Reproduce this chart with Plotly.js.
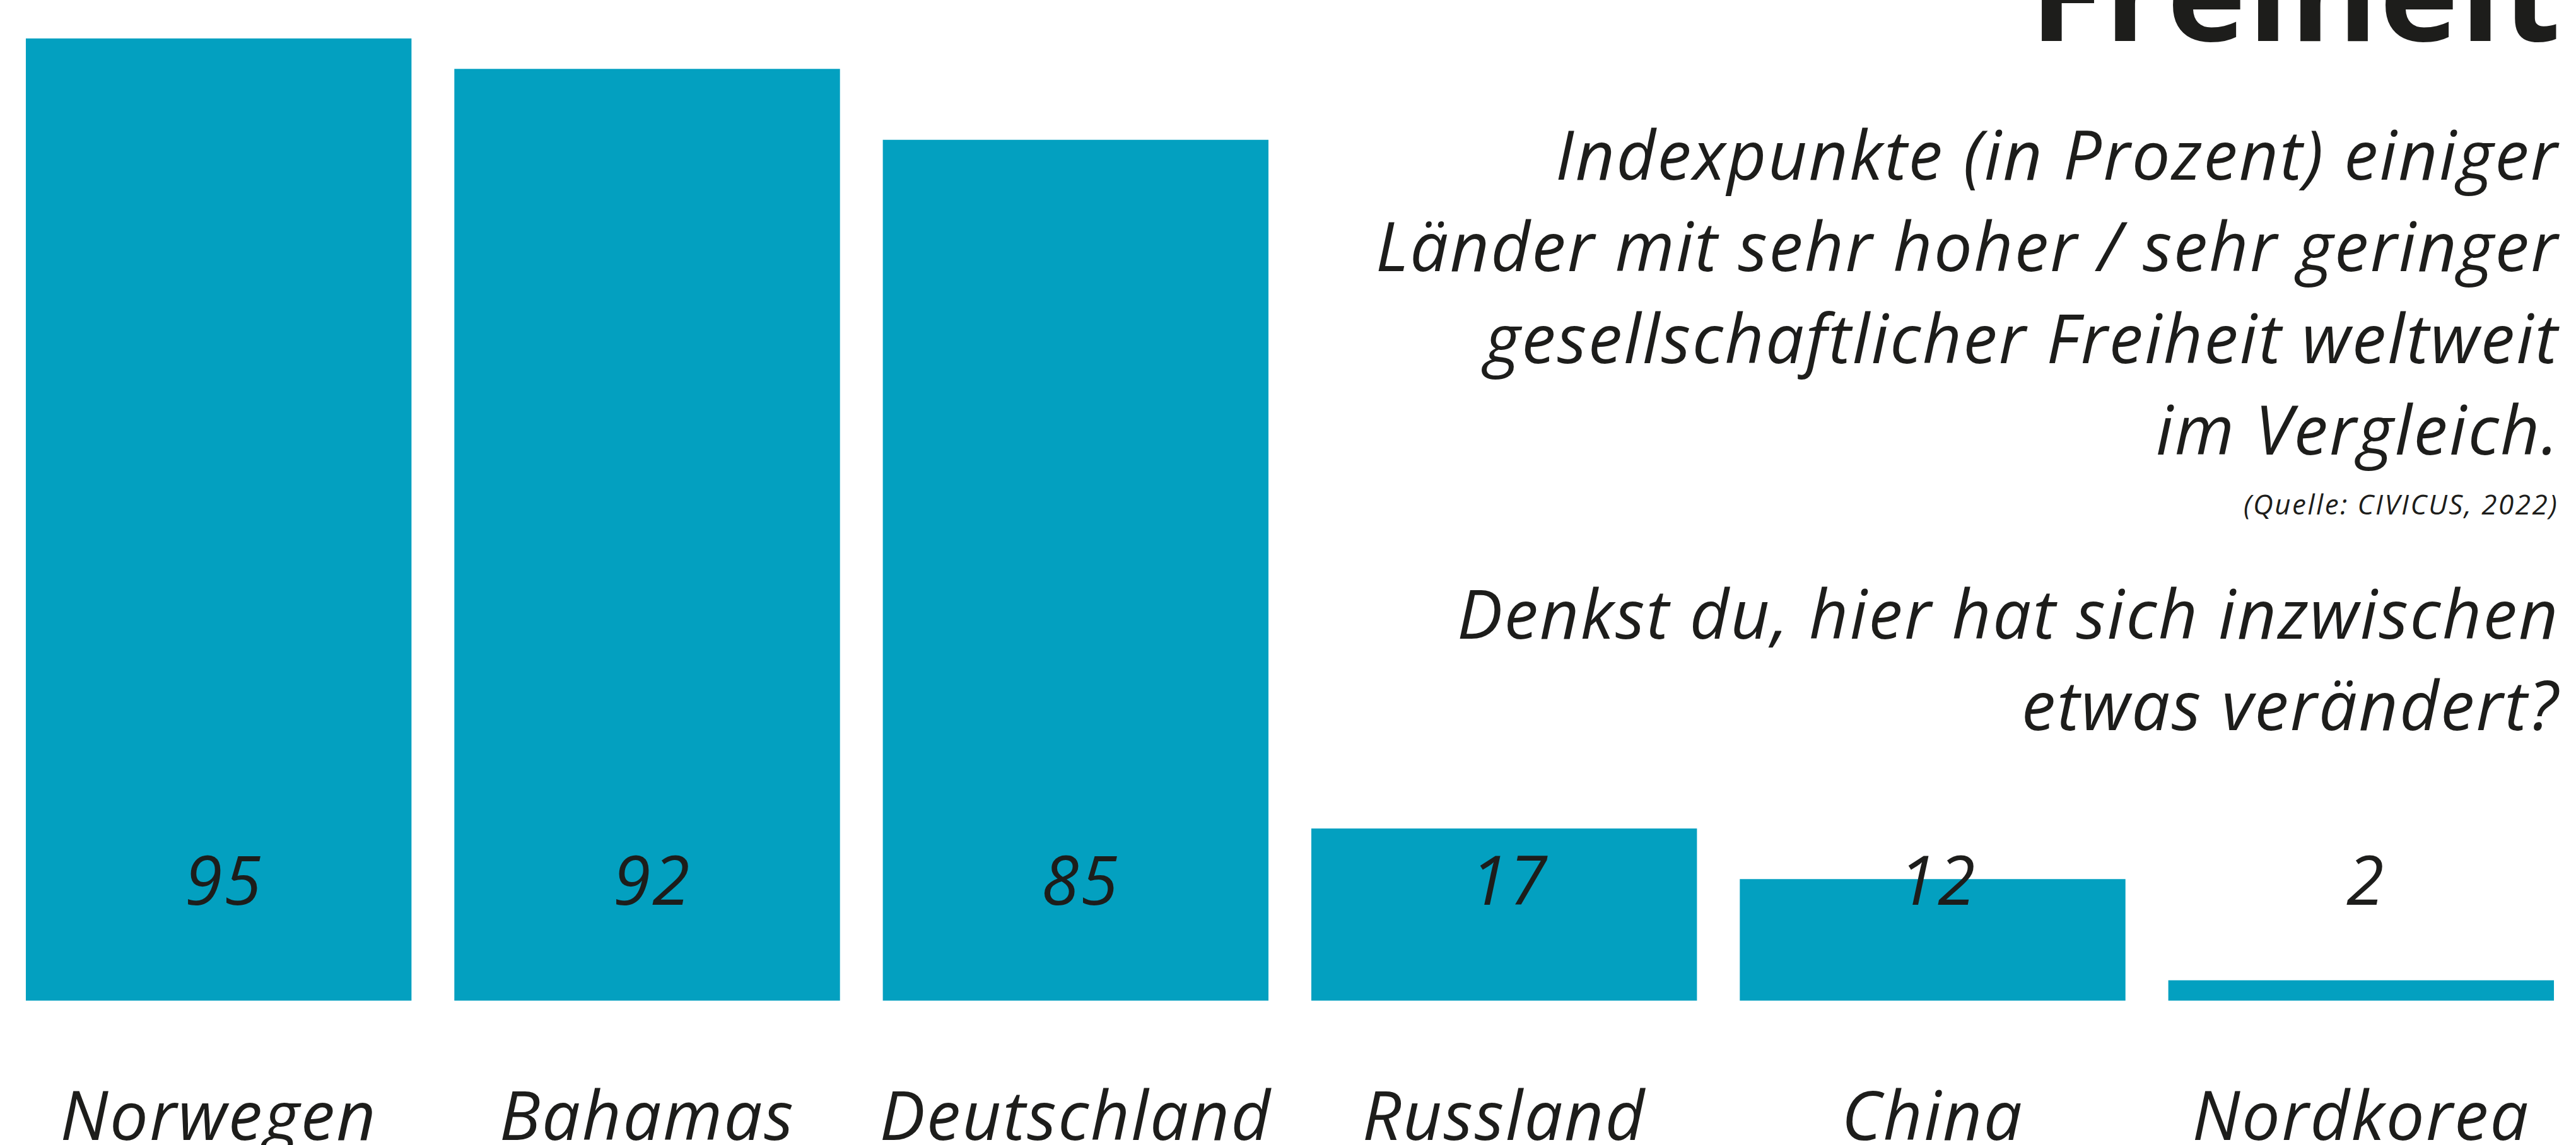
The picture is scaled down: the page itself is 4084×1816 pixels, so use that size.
<!DOCTYPE html>
<html>
<head>
<meta charset="utf-8">
<script src="https://cdn.plot.ly/plotly-3.0.1.min.js"></script>
<style>
html,body{margin:0;padding:0;background:#fff;}
#chart{width:4084px;height:1816px;}
.annotation-text, .xtick text { letter-spacing: 2.5px; }
</style>
</head>
<body>
<div id="chart"></div>
<script>
// ---- data ----
const countries = ["Norwegen", "Bahamas", "Deutschland", "Russland", "China", "Nordkorea"];
const indexValues = [95, 92, 85, 17, 12, 2];
const valueLabels = ["95", "92", "85", "17", "12", "2"];
const titleText = "Freiheit";
const subtitleLines = [
  "Indexpunkte (in Prozent) einiger",
  "Länder mit sehr hoher / sehr geringer",
  "gesellschaftlicher Freiheit weltweit",
  "im Vergleich."
];
const sourceText = "(Quelle: CIVICUS, 2022)";
const questionLines = [
  "Denkst du, hier hat sich inzwischen",
  "etwas verändert?"
];

// ---- layout constants (pixels) ----
const W = 4084, H = 1816;
const M = {l: 7, r: 1, t: 0, b: 229};
const plotH = H - M.t - M.b;        // 1587
const plotW = W - M.l - M.r;
const FAMILY = '"Open Sans", "Noto Sans", sans-serif';
const INK = '#1d1d1b';
const BAR = '#03a0c0';

function py(pix) { return 1 - (pix - M.t) / plotH; }      // pixel from top -> paper y
function px(pix) { return (pix - M.l) / plotW; }          // pixel from left -> paper x

const annotations = [];

// title (bold, cut at the top)
const titleSize = 212;
annotations.push({
  text: titleText, xref: 'paper', yref: 'paper',
  x: px(4064), y: py(67 + 0.293 * titleSize),
  xanchor: 'right', yanchor: 'bottom', showarrow: false,
  font: {family: FAMILY, size: titleSize, weight: 700, color: INK}
});

// subtitle lines
const subSize = 108;
const subBaselines = [287, 432, 578, 723];
subtitleLines.forEach((t, i) => {
  annotations.push({
    text: t, xref: 'paper', yref: 'paper',
    x: px(4060), y: py(subBaselines[i] + 0.293 * subSize),
    xanchor: 'right', yanchor: 'bottom', showarrow: false,
    font: {family: FAMILY, size: subSize, style: 'italic', color: INK}
  });
});

// source
const srcSize = 44;
annotations.push({
  text: sourceText, xref: 'paper', yref: 'paper',
  x: px(4058), y: py(818 + 0.293 * srcSize),
  xanchor: 'right', yanchor: 'bottom', showarrow: false,
  font: {family: FAMILY, size: srcSize, style: 'italic', color: INK}
});

// question
const qBaselines = [1015, 1160];
questionLines.forEach((t, i) => {
  annotations.push({
    text: t, xref: 'paper', yref: 'paper',
    x: px(4060), y: py(qBaselines[i] + 0.293 * subSize),
    xanchor: 'right', yanchor: 'bottom', showarrow: false,
    font: {family: FAMILY, size: subSize, style: 'italic', color: INK}
  });
});

// value labels at a fixed height
const valSize = 108;
countries.forEach((c, i) => {
  annotations.push({
    text: valueLabels[i], xref: 'x', yref: 'paper',
    x: c, y: py(1437 + 0.293 * valSize), xshift: 8,
    xanchor: 'center', yanchor: 'bottom', showarrow: false,
    font: {family: FAMILY, size: valSize, style: 'italic', color: INK}
  });
});

const trace = {
  type: 'bar',
  x: countries,
  y: indexValues,
  marker: {color: BAR, line: {width: 0}},
  hoverinfo: 'none'
};

const layout = {
  width: W, height: H,
  margin: M,
  paper_bgcolor: '#ffffff',
  plot_bgcolor: '#ffffff',
  showlegend: false,
  bargap: 0.1,
  xaxis: {
    type: 'category',
    showgrid: false, zeroline: false, showline: false,
    ticks: 'outside', ticklen: 90, tickcolor: 'rgba(0,0,0,0)',
    tickfont: {family: FAMILY, size: 108, style: 'italic', color: INK},
    fixedrange: true
  },
  yaxis: {
    range: [0, 98.8],
    showgrid: false, zeroline: false, showline: false,
    showticklabels: false, ticks: '',
    fixedrange: true
  },
  annotations: annotations
};

Plotly.newPlot('chart', [trace], layout, {displayModeBar: false, staticPlot: true});
</script>
</body>
</html>
